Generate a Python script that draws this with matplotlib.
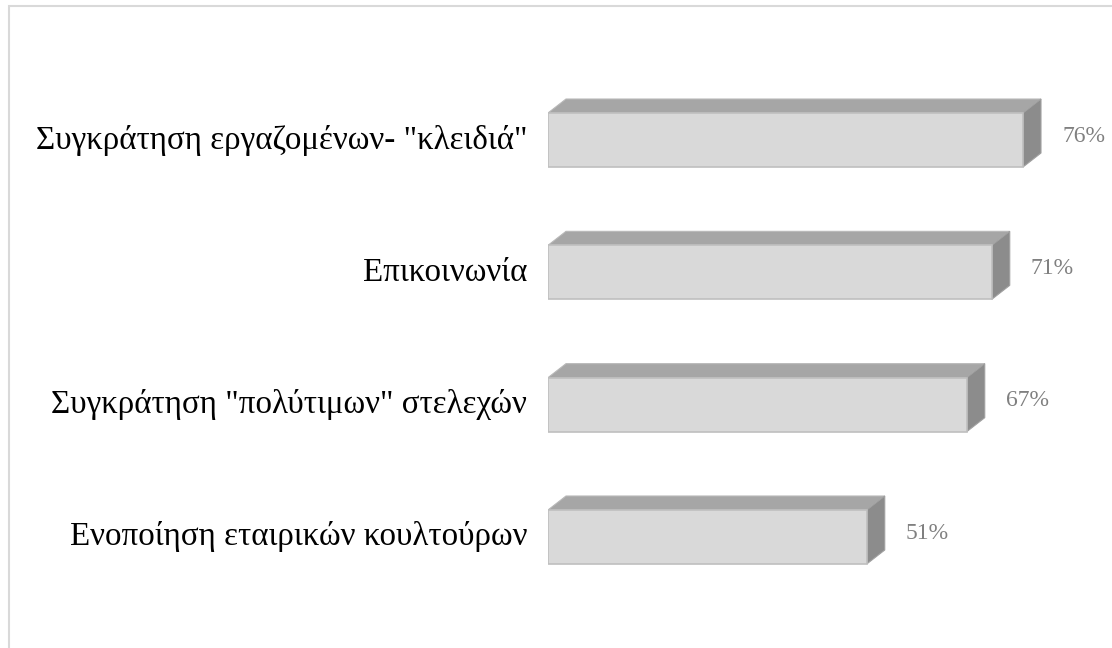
import matplotlib
matplotlib.use("Agg")
import matplotlib.pyplot as plt
from matplotlib.patches import Polygon, Rectangle

categories = ["Ενοποίηση εταιρικών κουλτούρων",
              "Συγκράτηση \"πολύτιμων\" στελεχών",
              "Επικοινωνία",
              "Συγκράτηση εργαζομένων- \"κλειδιά\""]
values = [51, 67, 71, 76]
value_labels = ["51%", "67%", "71%", "76%"]

plt.rcParams['font.family'] = ['Liberation Serif', 'DejaVu Serif']

W, H = 1112, 648
fig = plt.figure(figsize=(W / 100, H / 100), dpi=100)

# frame around the chart area (right/bottom edges fall outside the image)
fig.patches.append(Rectangle((8.5 / W, -0.1), 1.2, (H - 6.5) / H + 0.1,
                             transform=fig.transFigure, fill=False,
                             edgecolor='#d9d9d9', linewidth=1.5))

xmax = 90
px_per_unit_x = 6.25
unit_y = 132.33
ax_left = 548 / W
ax_width = xmax * px_per_unit_x / W
ylo, yhi = -0.8, 3.8
ax_bottom = (H - (537 + 0.8 * unit_y)) / H
ax_height = (yhi - ylo) * unit_y / H
ax = fig.add_axes([ax_left, ax_bottom, ax_width, ax_height])
ax.set_xlim(0, xmax)
ax.set_ylim(ylo, yhi)
ax.axis('off')

bar_h = 54 / unit_y
dx = 18 / px_per_unit_x
dy = 14 / unit_y
ypos = list(range(len(categories)))

ax.barh(ypos, values, height=bar_h, color='#d9d9d9', edgecolor='#bfbfbf',
        linewidth=1.2, zorder=3)

for y, v, lab, cat in zip(ypos, values, value_labels, categories):
    top = y + bar_h / 2
    bot = y - bar_h / 2
    ax.add_patch(Polygon([(0, top), (dx, top + dy), (v + dx, top + dy), (v, top)],
                         closed=True, facecolor='#a6a6a6', edgecolor='#b8b8b8',
                         linewidth=0.8, zorder=2))
    ax.add_patch(Polygon([(v, top), (v + dx, top + dy), (v + dx, bot + dy), (v, bot)],
                         closed=True, facecolor='#8c8c8c', edgecolor='#a0a0a0',
                         linewidth=0.8, zorder=2))
    ax.text(v + dx + 21 / px_per_unit_x, y + 0.03, lab, ha='left', va='center',
            fontsize=17, color='#808080')
    ax.text(-21 / px_per_unit_x, y, cat, ha='right', va='center',
            fontsize=23.8, color='black')

fig.savefig("out.png", dpi=100)
